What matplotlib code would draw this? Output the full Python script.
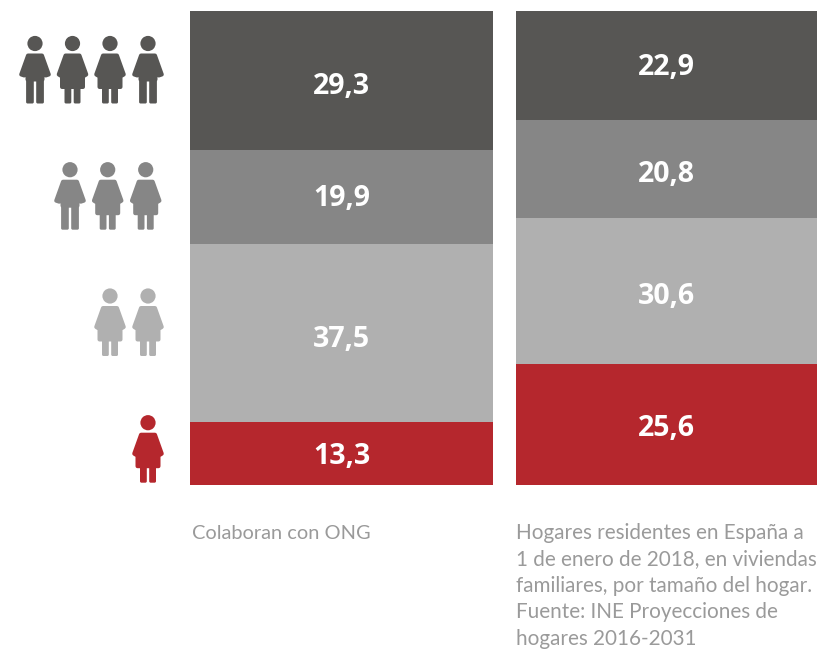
import numpy as np
import matplotlib.pyplot as plt
from matplotlib.patches import Circle, Polygon, FancyBboxPatch

# bottom to top: 1 person, 2, 3, 4 or more
ong_values = [13.3, 37.5, 19.9, 29.3]
hogares_values = [25.6, 30.6, 20.8, 22.9]
colors = ['#b5272d', '#b0b0b0', '#868686', '#575654']

caption_ong = 'Colaboran con ONG'
caption_hogares = ['Hogares residentes en España a',
                   '1 de enero de 2018, en viviendas',
                   'familiares, por tamaño del hogar.',
                   'Fuente: INE Proyecciones de',
                   'hogares 2016-2031']

W, H = 817, 650
fig = plt.figure(figsize=(W / 100, H / 100), dpi=100)


def stacked(left, right, values, nudges):
    ax = fig.add_axes([left / W, 1 - 485 / H, (right - left) / W, 474 / H])
    bottom = 0
    for v, c, n in zip(values, colors, nudges):
        ax.bar(0, v, width=1, bottom=bottom, color=c)
        # labels sit a little low in the segments, by a few px each
        ax.annotate(f'{v:.1f}'.replace('.', ','), (0, bottom + v / 2),
                    xytext=(0, -n * 0.72), textcoords='offset points', color='white',
                    ha='center', va='center', fontsize=20.5, fontweight='bold',
                    family='Open Sans')
        bottom += v
    ax.set_xlim(-0.5, 0.5)
    ax.set_ylim(0, bottom)
    ax.axis('off')


stacked(190, 493, ong_values, [3, 6, 1, 6])
stacked(516, 817, hogares_values, [4, 6, 6, 2])

# overlay in pixel coordinates for the icons and captions
over = fig.add_axes([0, 0, 1, 1], zorder=5)
over.set_xlim(0, W)
over.set_ylim(H, 0)
over.axis('off')


def person(cx, cy, kind, color):
    over.add_patch(Circle((cx, cy), 7.6, color=color, lw=0))
    r = 2.0
    if kind == 'm':
        body = [(-7, 12), (7, 12), (13.8, 31), (10.8, 32), (7.5, 26), (7.5, 36), (-7.5, 36),
                (-7.5, 26), (-10.8, 32), (-13.8, 31)]
    else:
        body = [(-7, 12), (7, 12), (13.8, 31), (10.5, 33), (10.5, 43.5), (-10.5, 43.5),
                (-10.5, 33), (-13.8, 31)]
    pts = [(cx + x, cy + y) for x, y in body]
    over.add_patch(Polygon(pts, closed=True, fc=color, ec=color, lw=r * 1.44,
                           joinstyle='round'))
    inner = 1.2
    outer = 8.9 if kind == 'm' else 8.0
    for x0 in (cx - outer, cx + inner):
        over.add_patch(FancyBboxPatch((x0 + 1.5, cy + 30), outer - inner - 3, 28.5,
                                      boxstyle='round,pad=1.5', fc=color, ec='none'))


rows = [(43.5, colors[3], [(35, 'm'), (72.5, 'f'), (110, 'f'), (148, 'm')]),
        (169.7, colors[2], [(70, 'm'), (107.7, 'f'), (145.7, 'f')]),
        (296, colors[1], [(110, 'f'), (148, 'f')]),
        (422.7, colors[0], [(148, 'f')])]
for cy, c, people in rows:
    for cx, kind in people:
        person(cx, cy, kind, c)

over.text(192, 539, caption_ong, color='#9a9a9a', fontsize=14.4, family='Lato',
          va='baseline', ha='left')
for i, line in enumerate(caption_hogares):
    over.text(516.5, 539 + i * 26.5, line, color='#9a9a9a', fontsize=14.9, family='Lato',
              va='baseline', ha='left')

fig.savefig('out.png', dpi=100)
